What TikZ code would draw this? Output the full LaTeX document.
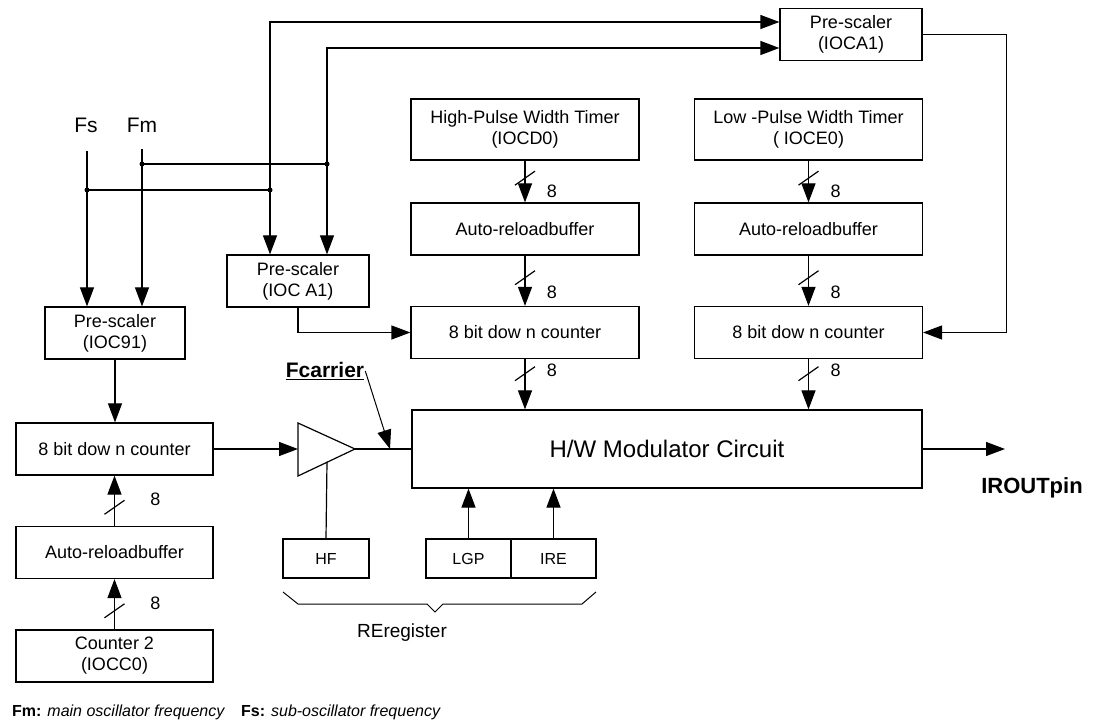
\documentclass[tikz,border=0pt]{standalone}
\usepackage{fontspec}
\setmainfont{Liberation Sans}
\usetikzlibrary{arrows.meta,positioning}

\tikzset{
  blk/.style={draw, line width=1.2pt, align=center, inner sep=0pt,
    font=\fontsize{18}{21}\selectfont},
  colblk/.style={blk, minimum width=228pt, minimum height=52pt},
  psblk/.style={blk, minimum width=142pt, minimum height=52pt},
  lblk/.style={blk, minimum width=197pt, minimum height=52pt},
  regblk/.style={blk, minimum width=85pt, minimum height=39pt, font=\fontsize{16}{19}\selectfont},
  sig/.style={line width=1.2pt, -{Triangle[length=19pt,width=14pt]}},
  wire/.style={line width=1.2pt},
  jdot/.style={circle, fill, inner sep=0pt, minimum size=5pt},
  eight/.style={font=\fontsize{18}{20}\selectfont, inner sep=0pt},
  lbl/.style={font=\fontsize{19}{22}\selectfont, inner sep=1pt},
  blbl/.style={inner sep=1pt, font=\bfseries\fontsize{21}{24}\selectfont},
}
\newcommand{\busmark}[2]{%
  \draw[wire] ([shift={(-10,7)}]#1) -- ([shift={(10,-7)}]#1);
  \node[eight] (#1n) at ([shift={#2}]#1) {8};}

\begin{document}
\begin{tikzpicture}[x=1pt,y=-1pt,on grid,node distance=103.5pt]
   \useasboundingbox (0,0) rectangle (1101,727);

   % timers and counters
   \node[colblk, minimum height=61pt] (hpt) at (525,129.5) {High-Pulse Width Timer\\(IOCD0)};
   \node[colblk] (rld1) [below=99.5pt of hpt] {Auto-reloadbuffer};
   \node[colblk] (cnt1) [below=of rld1] {8 bit dow n counter};
   \node[colblk, minimum height=61pt] (lpt) [right=283.5pt of hpt] {Low -Pulse Width Timer\\( IOCE0)};
   \node[colblk] (rld2) [right=283.5pt of rld1] {Auto-reloadbuffer};
   \node[colblk] (cnt2) [right=283.5pt of cnt1] {8 bit dow n counter};

   \node[psblk] (psa) at (851,34.5) {Pre-scaler\\(IOCA1)};
   \node[psblk] (psb) at (298,281) {Pre-scaler\\(IOC A1)};
   \node[psblk, minimum width=140pt] (ps9) at (115,333) {Pre-scaler\\(IOC91)};

   \node[lblk] (cntl) at (114.5,449) {8 bit  dow n counter};
   \node[lblk] (rldl) [below=of cntl] {Auto-reloadbuffer};
   \node[lblk] (cc2) [below=of rldl] {Counter 2\\(IOCC0)};

   \node[blk, minimum width=510pt, minimum height=78pt, font=\fontsize{24}{28}\selectfont]
      (mod) at (667,449) {H/W Modulator Circuit};

   \node[regblk, minimum width=86pt] (hf) at (326,558.5) {HF};
   \node[regblk] (lgp) at (468.5,558.5) {LGP};
   \node[regblk] (ire) [right=85pt of lgp] {IRE};

   % clock inputs
   \node[font=\fontsize{21}{24}\selectfont] (fs) at (86,125) {Fs};
   \node[font=\fontsize{21}{24}\selectfont] (fm) at (142,125) {Fm};
   \coordinate (fsin) at (87,151);
   \coordinate (fmin) at (142,149);
   \node[jdot] (j1) at (87,190) {};
   \node[jdot] (j2) at (270,190) {};
   \node[jdot] (j3) at (142,164) {};
   \node[jdot] (j4) at (327,164) {};

   \draw[sig] (fsin) -- (fsin |- ps9.north);
   \draw[sig] (fmin) -- (fmin |- ps9.north);
   \draw[wire] (j1.center) -- (j2.center);
   \draw[wire] (j3.center) -- (j4.center);
   \draw[sig] (j2.center) -- (j2 |- psb.north);
   \draw[sig] (j4.center) -- (j4 |- psb.north);
   \draw[sig] (j2.center) |- ([yshift=12.5pt]psa.west);
   \draw[sig] (j4.center) |- ([yshift=-13.5pt]psa.west);

   \draw[sig] (psa.east) -- ++(84,0) |- (cnt2.east);
   \draw[sig] (psb.south) |- (cnt1.west);
   \draw[sig] (ps9) -- (ps9 |- cntl.north);

   % 8 bit buses
   \draw[sig] (hpt) -- coordinate[pos=.42] (b1) (rld1);
   \draw[sig] (rld1) -- coordinate[pos=.44] (b2) (cnt1);
   \draw[sig] (cnt1) -- coordinate[pos=.29] (b3) (cnt1 |- mod.north);
   \draw[sig] (lpt) -- coordinate[pos=.42] (b4) (rld2);
   \draw[sig] (rld2) -- coordinate[pos=.44] (b5) (cnt2);
   \draw[sig] (cnt2) -- coordinate[pos=.29] (b6) (cnt2 |- mod.north);
   \draw[sig] (cc2) -- coordinate[pos=.37] (b7) (rldl);
   \draw[sig] (rldl) -- coordinate[pos=.37] (b8) (cntl);
   \busmark{b1}{(27,13)}
   \busmark{b2}{(27,15)}
   \busmark{b3}{(27,-3)}
   \busmark{b4}{(27,13)}
   \busmark{b5}{(27,15)}
   \busmark{b6}{(27,-3)}
   \busmark{b7}{(41,-7)}
   \busmark{b8}{(41,-8)}

   % amplifier and carrier
   \draw[wire] (298,423) -- (355,449) -- (298,476) -- cycle;
   \coordinate (ampin) at (298,449);
   \coordinate (ampout) at (355,449);
   \coordinate (ampb) at (327,462);
   \coordinate (fcin) at (390,449);
   \draw[sig] (cntl.east) -- (ampin);
   \draw[wire] (ampout) -- (mod.west);
   \draw[wire] (hf.north) -- (ampb);
   \node[blbl] (fc) at (325,371) {\underline{Fcarrier}};
   \draw[sig, line width=1pt] (fc.east) -- (fcin);

   \draw[sig] (lgp.north) -- (lgp.north |- mod.south);
   \draw[sig] (ire.north) -- (ire.north |- mod.south);

   \coordinate (irout) at (1005,449);
   \draw[sig] (mod.east) -- (irout);
   \node[blbl, font=\bfseries\fontsize{22}{24}\selectfont] (irlbl) at (1032,488) {IROUTpin};

   % register brace
   \draw[wire, line width=1pt] (283,592) -- (298,604) -- (427,604) -- (435,612)
      -- (443,604) -- (582,604) -- (596,592);
   \node[lbl] (rereg) at (402,633) {REregister};

   % notes
   \node[anchor=west, inner sep=0pt, font=\fontsize{16}{19}\selectfont] (fmnote) at (12,712)
      {\textbf{Fm:} \textit{main oscillator frequency}};
   \node[anchor=west, inner sep=0pt, font=\fontsize{16}{19}\selectfont] (fsnote) at (241,712)
      {\textbf{Fs:} \textit{sub-oscillator frequency}};
\end{tikzpicture}
\end{document}
